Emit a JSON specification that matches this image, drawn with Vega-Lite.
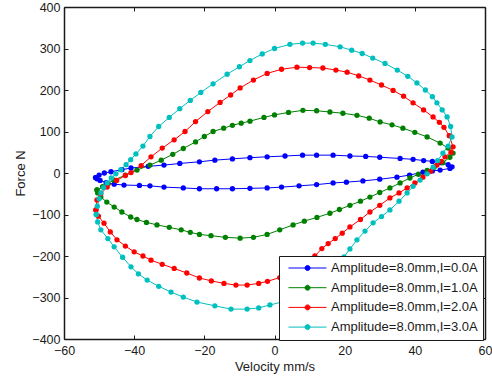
{
"$schema":"https://vega.github.io/schema/vega-lite/v6.json",
"width":421,"height":332,
"autosize":"none",
"padding":{"left":64,"top":7,"right":7,"bottom":37},
"background":"white",
"config":{"view":{"stroke":null},"font":"Liberation Sans",
"axis":{"grid":false,"labelFlush":false,"domainColor":"#1a1a1a","domainWidth":1.5,"tickColor":"#1a1a1a","tickSize":-4,"labelColor":"#1a1a1a","titleColor":"#1a1a1a","labelFontSize":12.5,"titleFontSize":13,"titleFontWeight":"normal","labelFont":"Liberation Sans","titleFont":"Liberation Sans"}},
"data":{"values":[
{"s":"Amplitude=8.0mm,I=0.0A","i":0,"v":-51,"f":-11},{"s":"Amplitude=8.0mm,I=0.0A","i":1,"v":-50,"f":-5},{"s":"Amplitude=8.0mm,I=0.0A","i":2,"v":-48.5,"f":0},{"s":"Amplitude=8.0mm,I=0.0A","i":3,"v":-46.6,"f":3},{"s":"Amplitude=8.0mm,I=0.0A","i":4,"v":-43.5,"f":8},{"s":"Amplitude=8.0mm,I=0.0A","i":5,"v":-40.9,"f":12},{"s":"Amplitude=8.0mm,I=0.0A","i":6,"v":-36,"f":16},{"s":"Amplitude=8.0mm,I=0.0A","i":7,"v":-31.5,"f":19},{"s":"Amplitude=8.0mm,I=0.0A","i":8,"v":-27,"f":23},{"s":"Amplitude=8.0mm,I=0.0A","i":9,"v":-21.4,"f":27},{"s":"Amplitude=8.0mm,I=0.0A","i":10,"v":-17,"f":31},{"s":"Amplitude=8.0mm,I=0.0A","i":11,"v":-12,"f":34},{"s":"Amplitude=8.0mm,I=0.0A","i":12,"v":-7,"f":37},{"s":"Amplitude=8.0mm,I=0.0A","i":13,"v":-2.1,"f":39},{"s":"Amplitude=8.0mm,I=0.0A","i":14,"v":3,"f":41},{"s":"Amplitude=8.0mm,I=0.0A","i":15,"v":8,"f":43},{"s":"Amplitude=8.0mm,I=0.0A","i":16,"v":12,"f":43},{"s":"Amplitude=8.0mm,I=0.0A","i":17,"v":16.7,"f":43},{"s":"Amplitude=8.0mm,I=0.0A","i":18,"v":21.5,"f":41},{"s":"Amplitude=8.0mm,I=0.0A","i":19,"v":26,"f":40},{"s":"Amplitude=8.0mm,I=0.0A","i":20,"v":30,"f":38},{"s":"Amplitude=8.0mm,I=0.0A","i":21,"v":35.8,"f":35},{"s":"Amplitude=8.0mm,I=0.0A","i":22,"v":39.5,"f":33},{"s":"Amplitude=8.0mm,I=0.0A","i":23,"v":42.5,"f":30},{"s":"Amplitude=8.0mm,I=0.0A","i":24,"v":45,"f":28},{"s":"Amplitude=8.0mm,I=0.0A","i":25,"v":47.5,"f":25},{"s":"Amplitude=8.0mm,I=0.0A","i":26,"v":49.5,"f":20},{"s":"Amplitude=8.0mm,I=0.0A","i":27,"v":50.6,"f":15},{"s":"Amplitude=8.0mm,I=0.0A","i":28,"v":50,"f":11},{"s":"Amplitude=8.0mm,I=0.0A","i":29,"v":47.2,"f":7},{"s":"Amplitude=8.0mm,I=0.0A","i":30,"v":45,"f":5},{"s":"Amplitude=8.0mm,I=0.0A","i":31,"v":42.3,"f":2},{"s":"Amplitude=8.0mm,I=0.0A","i":32,"v":38.5,"f":-5},{"s":"Amplitude=8.0mm,I=0.0A","i":33,"v":34.9,"f":-10},{"s":"Amplitude=8.0mm,I=0.0A","i":34,"v":30,"f":-15},{"s":"Amplitude=8.0mm,I=0.0A","i":35,"v":25.2,"f":-19},{"s":"Amplitude=8.0mm,I=0.0A","i":36,"v":20.5,"f":-22},{"s":"Amplitude=8.0mm,I=0.0A","i":37,"v":16.7,"f":-24},{"s":"Amplitude=8.0mm,I=0.0A","i":38,"v":12,"f":-28},{"s":"Amplitude=8.0mm,I=0.0A","i":39,"v":7,"f":-31},{"s":"Amplitude=8.0mm,I=0.0A","i":40,"v":2,"f":-34},{"s":"Amplitude=8.0mm,I=0.0A","i":41,"v":-2.1,"f":-36},{"s":"Amplitude=8.0mm,I=0.0A","i":42,"v":-7,"f":-37},{"s":"Amplitude=8.0mm,I=0.0A","i":43,"v":-12,"f":-38},{"s":"Amplitude=8.0mm,I=0.0A","i":44,"v":-16.5,"f":-38},{"s":"Amplitude=8.0mm,I=0.0A","i":45,"v":-21.4,"f":-38},{"s":"Amplitude=8.0mm,I=0.0A","i":46,"v":-26,"f":-36},{"s":"Amplitude=8.0mm,I=0.0A","i":47,"v":-31.5,"f":-34},{"s":"Amplitude=8.0mm,I=0.0A","i":48,"v":-35.5,"f":-31},{"s":"Amplitude=8.0mm,I=0.0A","i":49,"v":-38.5,"f":-30},{"s":"Amplitude=8.0mm,I=0.0A","i":50,"v":-42.9,"f":-29},{"s":"Amplitude=8.0mm,I=0.0A","i":51,"v":-45.7,"f":-27},{"s":"Amplitude=8.0mm,I=0.0A","i":52,"v":-48,"f":-23},{"s":"Amplitude=8.0mm,I=0.0A","i":53,"v":-49.7,"f":-18},{"s":"Amplitude=8.0mm,I=0.0A","i":54,"v":-50.6,"f":-14},{"s":"Amplitude=8.0mm,I=0.0A","i":55,"v":-51,"f":-11},
{"s":"Amplitude=8.0mm,I=1.0A","i":0,"v":-50.6,"f":-41},{"s":"Amplitude=8.0mm,I=1.0A","i":1,"v":-49,"f":-33},{"s":"Amplitude=8.0mm,I=1.0A","i":2,"v":-47.5,"f":-25},{"s":"Amplitude=8.0mm,I=1.0A","i":3,"v":-45.7,"f":-17},{"s":"Amplitude=8.0mm,I=1.0A","i":4,"v":-42.5,"f":-5},{"s":"Amplitude=8.0mm,I=1.0A","i":5,"v":-39.2,"f":7},{"s":"Amplitude=8.0mm,I=1.0A","i":6,"v":-35.5,"f":19},{"s":"Amplitude=8.0mm,I=1.0A","i":7,"v":-32.3,"f":31},{"s":"Amplitude=8.0mm,I=1.0A","i":8,"v":-29,"f":45},{"s":"Amplitude=8.0mm,I=1.0A","i":9,"v":-26,"f":59},{"s":"Amplitude=8.0mm,I=1.0A","i":10,"v":-22.5,"f":75},{"s":"Amplitude=8.0mm,I=1.0A","i":11,"v":-20,"f":88},{"s":"Amplitude=8.0mm,I=1.0A","i":12,"v":-17.5,"f":100},{"s":"Amplitude=8.0mm,I=1.0A","i":13,"v":-14.5,"f":108},{"s":"Amplitude=8.0mm,I=1.0A","i":14,"v":-12,"f":115},{"s":"Amplitude=8.0mm,I=1.0A","i":15,"v":-9.5,"f":120},{"s":"Amplitude=8.0mm,I=1.0A","i":16,"v":-7,"f":125},{"s":"Amplitude=8.0mm,I=1.0A","i":17,"v":-3,"f":134},{"s":"Amplitude=8.0mm,I=1.0A","i":18,"v":0,"f":140},{"s":"Amplitude=8.0mm,I=1.0A","i":19,"v":4,"f":146},{"s":"Amplitude=8.0mm,I=1.0A","i":20,"v":8.1,"f":151},{"s":"Amplitude=8.0mm,I=1.0A","i":21,"v":12,"f":150},{"s":"Amplitude=8.0mm,I=1.0A","i":22,"v":15.8,"f":147},{"s":"Amplitude=8.0mm,I=1.0A","i":23,"v":19.5,"f":144},{"s":"Amplitude=8.0mm,I=1.0A","i":24,"v":23.5,"f":139},{"s":"Amplitude=8.0mm,I=1.0A","i":25,"v":27,"f":132},{"s":"Amplitude=8.0mm,I=1.0A","i":26,"v":30.1,"f":123},{"s":"Amplitude=8.0mm,I=1.0A","i":27,"v":33.5,"f":116},{"s":"Amplitude=8.0mm,I=1.0A","i":28,"v":36.6,"f":108},{"s":"Amplitude=8.0mm,I=1.0A","i":29,"v":40,"f":98},{"s":"Amplitude=8.0mm,I=1.0A","i":30,"v":43.5,"f":87},{"s":"Amplitude=8.0mm,I=1.0A","i":31,"v":47.2,"f":72},{"s":"Amplitude=8.0mm,I=1.0A","i":32,"v":49.5,"f":60},{"s":"Amplitude=8.0mm,I=1.0A","i":33,"v":50.9,"f":48},{"s":"Amplitude=8.0mm,I=1.0A","i":34,"v":50,"f":38},{"s":"Amplitude=8.0mm,I=1.0A","i":35,"v":48,"f":25},{"s":"Amplitude=8.0mm,I=1.0A","i":36,"v":45.5,"f":14},{"s":"Amplitude=8.0mm,I=1.0A","i":37,"v":43.5,"f":6},{"s":"Amplitude=8.0mm,I=1.0A","i":38,"v":41,"f":-3},{"s":"Amplitude=8.0mm,I=1.0A","i":39,"v":38.6,"f":-12},{"s":"Amplitude=8.0mm,I=1.0A","i":40,"v":35.8,"f":-24},{"s":"Amplitude=8.0mm,I=1.0A","i":41,"v":32.9,"f":-36},{"s":"Amplitude=8.0mm,I=1.0A","i":42,"v":30,"f":-47},{"s":"Amplitude=8.0mm,I=1.0A","i":43,"v":27.2,"f":-58},{"s":"Amplitude=8.0mm,I=1.0A","i":44,"v":24.5,"f":-68},{"s":"Amplitude=8.0mm,I=1.0A","i":45,"v":21.5,"f":-78},{"s":"Amplitude=8.0mm,I=1.0A","i":46,"v":18.5,"f":-88},{"s":"Amplitude=8.0mm,I=1.0A","i":47,"v":15.8,"f":-97},{"s":"Amplitude=8.0mm,I=1.0A","i":48,"v":12.1,"f":-107},{"s":"Amplitude=8.0mm,I=1.0A","i":49,"v":8.5,"f":-116},{"s":"Amplitude=8.0mm,I=1.0A","i":50,"v":5.3,"f":-125},{"s":"Amplitude=8.0mm,I=1.0A","i":51,"v":1.5,"f":-137},{"s":"Amplitude=8.0mm,I=1.0A","i":52,"v":-2.1,"f":-148},{"s":"Amplitude=8.0mm,I=1.0A","i":53,"v":-6,"f":-155},{"s":"Amplitude=8.0mm,I=1.0A","i":54,"v":-9.8,"f":-157},{"s":"Amplitude=8.0mm,I=1.0A","i":55,"v":-14,"f":-155},{"s":"Amplitude=8.0mm,I=1.0A","i":56,"v":-18.1,"f":-151},{"s":"Amplitude=8.0mm,I=1.0A","i":57,"v":-21.4,"f":-148},{"s":"Amplitude=8.0mm,I=1.0A","i":58,"v":-24,"f":-143},{"s":"Amplitude=8.0mm,I=1.0A","i":59,"v":-26.6,"f":-137},{"s":"Amplitude=8.0mm,I=1.0A","i":60,"v":-30,"f":-131},{"s":"Amplitude=8.0mm,I=1.0A","i":61,"v":-33.5,"f":-125},{"s":"Amplitude=8.0mm,I=1.0A","i":62,"v":-36.5,"f":-119},{"s":"Amplitude=8.0mm,I=1.0A","i":63,"v":-39.2,"f":-112},{"s":"Amplitude=8.0mm,I=1.0A","i":64,"v":-41,"f":-106},{"s":"Amplitude=8.0mm,I=1.0A","i":65,"v":-43.5,"f":-94},{"s":"Amplitude=8.0mm,I=1.0A","i":66,"v":-45.7,"f":-82},{"s":"Amplitude=8.0mm,I=1.0A","i":67,"v":-47.8,"f":-70},{"s":"Amplitude=8.0mm,I=1.0A","i":68,"v":-49.5,"f":-58},{"s":"Amplitude=8.0mm,I=1.0A","i":69,"v":-50.4,"f":-48},{"s":"Amplitude=8.0mm,I=1.0A","i":70,"v":-50.6,"f":-41},
{"s":"Amplitude=8.0mm,I=2.0A","i":0,"v":-50.9,"f":-89},{"s":"Amplitude=8.0mm,I=2.0A","i":1,"v":-50.6,"f":-65},{"s":"Amplitude=8.0mm,I=2.0A","i":2,"v":-49.5,"f":-50},{"s":"Amplitude=8.0mm,I=2.0A","i":3,"v":-47.7,"f":-34},{"s":"Amplitude=8.0mm,I=2.0A","i":4,"v":-45,"f":-18},{"s":"Amplitude=8.0mm,I=2.0A","i":5,"v":-42.5,"f":-6},{"s":"Amplitude=8.0mm,I=2.0A","i":6,"v":-40.9,"f":1},{"s":"Amplitude=8.0mm,I=2.0A","i":7,"v":-38,"f":18},{"s":"Amplitude=8.0mm,I=2.0A","i":8,"v":-35.2,"f":39},{"s":"Amplitude=8.0mm,I=2.0A","i":9,"v":-32,"f":60},{"s":"Amplitude=8.0mm,I=2.0A","i":10,"v":-28.6,"f":80},{"s":"Amplitude=8.0mm,I=2.0A","i":11,"v":-25.5,"f":100},{"s":"Amplitude=8.0mm,I=2.0A","i":12,"v":-22.5,"f":124},{"s":"Amplitude=8.0mm,I=2.0A","i":13,"v":-19,"f":148},{"s":"Amplitude=8.0mm,I=2.0A","i":14,"v":-15.5,"f":170},{"s":"Amplitude=8.0mm,I=2.0A","i":15,"v":-12.5,"f":188},{"s":"Amplitude=8.0mm,I=2.0A","i":16,"v":-9.8,"f":205},{"s":"Amplitude=8.0mm,I=2.0A","i":17,"v":-6,"f":224},{"s":"Amplitude=8.0mm,I=2.0A","i":18,"v":-2.1,"f":240},{"s":"Amplitude=8.0mm,I=2.0A","i":19,"v":2,"f":250},{"s":"Amplitude=8.0mm,I=2.0A","i":20,"v":6.4,"f":255},{"s":"Amplitude=8.0mm,I=2.0A","i":21,"v":10,"f":254},{"s":"Amplitude=8.0mm,I=2.0A","i":22,"v":13.8,"f":253},{"s":"Amplitude=8.0mm,I=2.0A","i":23,"v":17.5,"f":248},{"s":"Amplitude=8.0mm,I=2.0A","i":24,"v":20.7,"f":243},{"s":"Amplitude=8.0mm,I=2.0A","i":25,"v":24,"f":234},{"s":"Amplitude=8.0mm,I=2.0A","i":26,"v":27.2,"f":224},{"s":"Amplitude=8.0mm,I=2.0A","i":27,"v":30.5,"f":212},{"s":"Amplitude=8.0mm,I=2.0A","i":28,"v":33.8,"f":199},{"s":"Amplitude=8.0mm,I=2.0A","i":29,"v":36.8,"f":185},{"s":"Amplitude=8.0mm,I=2.0A","i":30,"v":39.5,"f":169},{"s":"Amplitude=8.0mm,I=2.0A","i":31,"v":42.5,"f":152},{"s":"Amplitude=8.0mm,I=2.0A","i":32,"v":45.2,"f":135},{"s":"Amplitude=8.0mm,I=2.0A","i":33,"v":47,"f":122},{"s":"Amplitude=8.0mm,I=2.0A","i":34,"v":48.3,"f":110},{"s":"Amplitude=8.0mm,I=2.0A","i":35,"v":49.8,"f":90},{"s":"Amplitude=8.0mm,I=2.0A","i":36,"v":50.9,"f":63},{"s":"Amplitude=8.0mm,I=2.0A","i":37,"v":50.3,"f":50},{"s":"Amplitude=8.0mm,I=2.0A","i":38,"v":48.6,"f":39},{"s":"Amplitude=8.0mm,I=2.0A","i":39,"v":47.5,"f":28},{"s":"Amplitude=8.0mm,I=2.0A","i":40,"v":46.3,"f":19},{"s":"Amplitude=8.0mm,I=2.0A","i":41,"v":44.5,"f":4},{"s":"Amplitude=8.0mm,I=2.0A","i":42,"v":42.3,"f":-10},{"s":"Amplitude=8.0mm,I=2.0A","i":43,"v":40,"f":-24},{"s":"Amplitude=8.0mm,I=2.0A","i":44,"v":37.8,"f":-36},{"s":"Amplitude=8.0mm,I=2.0A","i":45,"v":35.5,"f":-48},{"s":"Amplitude=8.0mm,I=2.0A","i":46,"v":32.9,"f":-60},{"s":"Amplitude=8.0mm,I=2.0A","i":47,"v":30,"f":-78},{"s":"Amplitude=8.0mm,I=2.0A","i":48,"v":27.2,"f":-94},{"s":"Amplitude=8.0mm,I=2.0A","i":49,"v":24.5,"f":-112},{"s":"Amplitude=8.0mm,I=2.0A","i":50,"v":21.5,"f":-130},{"s":"Amplitude=8.0mm,I=2.0A","i":51,"v":19.3,"f":-145},{"s":"Amplitude=8.0mm,I=2.0A","i":52,"v":17.3,"f":-158},{"s":"Amplitude=8.0mm,I=2.0A","i":53,"v":15.3,"f":-170},{"s":"Amplitude=8.0mm,I=2.0A","i":54,"v":13.5,"f":-182},{"s":"Amplitude=8.0mm,I=2.0A","i":55,"v":11.5,"f":-200},{"s":"Amplitude=8.0mm,I=2.0A","i":56,"v":9.3,"f":-217},{"s":"Amplitude=8.0mm,I=2.0A","i":57,"v":6.5,"f":-233},{"s":"Amplitude=8.0mm,I=2.0A","i":58,"v":4,"f":-244},{"s":"Amplitude=8.0mm,I=2.0A","i":59,"v":1.5,"f":-252},{"s":"Amplitude=8.0mm,I=2.0A","i":60,"v":-2,"f":-261},{"s":"Amplitude=8.0mm,I=2.0A","i":61,"v":-4.5,"f":-266},{"s":"Amplitude=8.0mm,I=2.0A","i":62,"v":-7.8,"f":-270},{"s":"Amplitude=8.0mm,I=2.0A","i":63,"v":-11,"f":-270},{"s":"Amplitude=8.0mm,I=2.0A","i":64,"v":-14.4,"f":-266},{"s":"Amplitude=8.0mm,I=2.0A","i":65,"v":-18,"f":-260},{"s":"Amplitude=8.0mm,I=2.0A","i":66,"v":-21.4,"f":-253},{"s":"Amplitude=8.0mm,I=2.0A","i":67,"v":-25,"f":-241},{"s":"Amplitude=8.0mm,I=2.0A","i":68,"v":-28.6,"f":-230},{"s":"Amplitude=8.0mm,I=2.0A","i":69,"v":-32,"f":-220},{"s":"Amplitude=8.0mm,I=2.0A","i":70,"v":-35.2,"f":-210},{"s":"Amplitude=8.0mm,I=2.0A","i":71,"v":-37.5,"f":-200},{"s":"Amplitude=8.0mm,I=2.0A","i":72,"v":-40,"f":-190},{"s":"Amplitude=8.0mm,I=2.0A","i":73,"v":-42.5,"f":-176},{"s":"Amplitude=8.0mm,I=2.0A","i":74,"v":-44.9,"f":-161},{"s":"Amplitude=8.0mm,I=2.0A","i":75,"v":-46.8,"f":-142},{"s":"Amplitude=8.0mm,I=2.0A","i":76,"v":-48.6,"f":-121},{"s":"Amplitude=8.0mm,I=2.0A","i":77,"v":-50.2,"f":-104},{"s":"Amplitude=8.0mm,I=2.0A","i":78,"v":-50.9,"f":-89},
{"s":"Amplitude=8.0mm,I=3.0A","i":0,"v":-50.8,"f":-100},{"s":"Amplitude=8.0mm,I=3.0A","i":1,"v":-50.5,"f":-80},{"s":"Amplitude=8.0mm,I=3.0A","i":2,"v":-50,"f":-62},{"s":"Amplitude=8.0mm,I=3.0A","i":3,"v":-49.5,"f":-48},{"s":"Amplitude=8.0mm,I=3.0A","i":4,"v":-48.7,"f":-35},{"s":"Amplitude=8.0mm,I=3.0A","i":5,"v":-47.7,"f":-24},{"s":"Amplitude=8.0mm,I=3.0A","i":6,"v":-46.5,"f":-12},{"s":"Amplitude=8.0mm,I=3.0A","i":7,"v":-45.2,"f":-2},{"s":"Amplitude=8.0mm,I=3.0A","i":8,"v":-43.8,"f":8},{"s":"Amplitude=8.0mm,I=3.0A","i":9,"v":-42.3,"f":20},{"s":"Amplitude=8.0mm,I=3.0A","i":10,"v":-41,"f":32},{"s":"Amplitude=8.0mm,I=3.0A","i":11,"v":-39.5,"f":46},{"s":"Amplitude=8.0mm,I=3.0A","i":12,"v":-37.5,"f":65},{"s":"Amplitude=8.0mm,I=3.0A","i":13,"v":-35.5,"f":88},{"s":"Amplitude=8.0mm,I=3.0A","i":14,"v":-33,"f":112},{"s":"Amplitude=8.0mm,I=3.0A","i":15,"v":-30,"f":134},{"s":"Amplitude=8.0mm,I=3.0A","i":16,"v":-27,"f":155},{"s":"Amplitude=8.0mm,I=3.0A","i":17,"v":-24,"f":175},{"s":"Amplitude=8.0mm,I=3.0A","i":18,"v":-21,"f":194},{"s":"Amplitude=8.0mm,I=3.0A","i":19,"v":-17.5,"f":215},{"s":"Amplitude=8.0mm,I=3.0A","i":20,"v":-13.5,"f":238},{"s":"Amplitude=8.0mm,I=3.0A","i":21,"v":-10,"f":256},{"s":"Amplitude=8.0mm,I=3.0A","i":22,"v":-7,"f":271},{"s":"Amplitude=8.0mm,I=3.0A","i":23,"v":-3.5,"f":287},{"s":"Amplitude=8.0mm,I=3.0A","i":24,"v":0,"f":300},{"s":"Amplitude=8.0mm,I=3.0A","i":25,"v":4.4,"f":310},{"s":"Amplitude=8.0mm,I=3.0A","i":26,"v":8,"f":313},{"s":"Amplitude=8.0mm,I=3.0A","i":27,"v":11,"f":313},{"s":"Amplitude=8.0mm,I=3.0A","i":28,"v":14.5,"f":310},{"s":"Amplitude=8.0mm,I=3.0A","i":29,"v":18.7,"f":304},{"s":"Amplitude=8.0mm,I=3.0A","i":30,"v":22,"f":296},{"s":"Amplitude=8.0mm,I=3.0A","i":31,"v":25,"f":288},{"s":"Amplitude=8.0mm,I=3.0A","i":32,"v":28,"f":277},{"s":"Amplitude=8.0mm,I=3.0A","i":33,"v":31.5,"f":264},{"s":"Amplitude=8.0mm,I=3.0A","i":34,"v":35,"f":248},{"s":"Amplitude=8.0mm,I=3.0A","i":35,"v":38,"f":233},{"s":"Amplitude=8.0mm,I=3.0A","i":36,"v":40.6,"f":217},{"s":"Amplitude=8.0mm,I=3.0A","i":37,"v":43,"f":200},{"s":"Amplitude=8.0mm,I=3.0A","i":38,"v":45,"f":184},{"s":"Amplitude=8.0mm,I=3.0A","i":39,"v":46.3,"f":169},{"s":"Amplitude=8.0mm,I=3.0A","i":40,"v":47.8,"f":152},{"s":"Amplitude=8.0mm,I=3.0A","i":41,"v":49.2,"f":135},{"s":"Amplitude=8.0mm,I=3.0A","i":42,"v":50.2,"f":112},{"s":"Amplitude=8.0mm,I=3.0A","i":43,"v":50.6,"f":87},{"s":"Amplitude=8.0mm,I=3.0A","i":44,"v":49.5,"f":65},{"s":"Amplitude=8.0mm,I=3.0A","i":45,"v":48,"f":48},{"s":"Amplitude=8.0mm,I=3.0A","i":46,"v":46.5,"f":30},{"s":"Amplitude=8.0mm,I=3.0A","i":47,"v":45.2,"f":14},{"s":"Amplitude=8.0mm,I=3.0A","i":48,"v":43.5,"f":-2},{"s":"Amplitude=8.0mm,I=3.0A","i":49,"v":41.5,"f":-17},{"s":"Amplitude=8.0mm,I=3.0A","i":50,"v":39.5,"f":-32},{"s":"Amplitude=8.0mm,I=3.0A","i":51,"v":37.8,"f":-48},{"s":"Amplitude=8.0mm,I=3.0A","i":52,"v":35.5,"f":-68},{"s":"Amplitude=8.0mm,I=3.0A","i":53,"v":32.9,"f":-89},{"s":"Amplitude=8.0mm,I=3.0A","i":54,"v":30.5,"f":-105},{"s":"Amplitude=8.0mm,I=3.0A","i":55,"v":28.1,"f":-120},{"s":"Amplitude=8.0mm,I=3.0A","i":56,"v":25.8,"f":-140},{"s":"Amplitude=8.0mm,I=3.0A","i":57,"v":23.5,"f":-161},{"s":"Amplitude=8.0mm,I=3.0A","i":58,"v":21.5,"f":-183},{"s":"Amplitude=8.0mm,I=3.0A","i":59,"v":19.8,"f":-202},{"s":"Amplitude=8.0mm,I=3.0A","i":60,"v":17.8,"f":-218},{"s":"Amplitude=8.0mm,I=3.0A","i":61,"v":15,"f":-238},{"s":"Amplitude=8.0mm,I=3.0A","i":62,"v":12,"f":-260},{"s":"Amplitude=8.0mm,I=3.0A","i":63,"v":9,"f":-280},{"s":"Amplitude=8.0mm,I=3.0A","i":64,"v":6,"f":-297},{"s":"Amplitude=8.0mm,I=3.0A","i":65,"v":3,"f":-309},{"s":"Amplitude=8.0mm,I=3.0A","i":66,"v":-1.3,"f":-318},{"s":"Amplitude=8.0mm,I=3.0A","i":67,"v":-4.5,"f":-325},{"s":"Amplitude=8.0mm,I=3.0A","i":68,"v":-7.8,"f":-328},{"s":"Amplitude=8.0mm,I=3.0A","i":69,"v":-12.4,"f":-328},{"s":"Amplitude=8.0mm,I=3.0A","i":70,"v":-17,"f":-320},{"s":"Amplitude=8.0mm,I=3.0A","i":71,"v":-22.1,"f":-311},{"s":"Amplitude=8.0mm,I=3.0A","i":72,"v":-26,"f":-299},{"s":"Amplitude=8.0mm,I=3.0A","i":73,"v":-29.5,"f":-287},{"s":"Amplitude=8.0mm,I=3.0A","i":74,"v":-33,"f":-273},{"s":"Amplitude=8.0mm,I=3.0A","i":75,"v":-36.3,"f":-258},{"s":"Amplitude=8.0mm,I=3.0A","i":76,"v":-38.8,"f":-243},{"s":"Amplitude=8.0mm,I=3.0A","i":77,"v":-40.9,"f":-226},{"s":"Amplitude=8.0mm,I=3.0A","i":78,"v":-43.3,"f":-203},{"s":"Amplitude=8.0mm,I=3.0A","i":79,"v":-45.7,"f":-178},{"s":"Amplitude=8.0mm,I=3.0A","i":80,"v":-47.5,"f":-158},{"s":"Amplitude=8.0mm,I=3.0A","i":81,"v":-49.5,"f":-137},{"s":"Amplitude=8.0mm,I=3.0A","i":82,"v":-50.4,"f":-118},{"s":"Amplitude=8.0mm,I=3.0A","i":83,"v":-50.8,"f":-100}
]},
"layer":[
{"mark":{"type":"line","strokeWidth":1,"clip":true},
 "encoding":{
  "x":{"field":"v","type":"quantitative","scale":{"domain":[-60,60],"nice":false,"zero":false},"axis":{"orient":"bottom","values":[-60,-40,-20,0,20,40,60],"title":"Velocity mm/s","labelPadding":9,"titlePadding":4}},
  "y":{"field":"f","type":"quantitative","scale":{"domain":[-400,400],"nice":false,"zero":false},"axis":{"orient":"left","values":[-400,-300,-200,-100,0,100,200,300,400],"title":"Force N","labelPadding":8,"titlePadding":4.5}},
  "order":{"field":"i","type":"quantitative"},
  "color":{"field":"s","type":"nominal","scale":{"range":["#0000ff","#008000","#ff0000","#00bfbf"]},
   "legend":{"title":null,"orient":"none","legendX":215,"legendY":249,"strokeColor":"#1a1a1a","fillColor":"white","padding":5,"labelFontSize":13,"labelFont":"Liberation Sans","labelColor":"#1a1a1a","symbolType":"M-0.385,0H5.46M2.16,0A0.385,0.385,0,1,0,2.93,0A0.385,0.385,0,1,0,2.16,0Z","symbolSize":169,"symbolStrokeWidth":1,"labelOffset":33,"rowPadding":5.7,
    "encode":{"symbols":{"update":{"fill":{"scale":"color","field":"value"},"stroke":{"scale":"color","field":"value"}}}}}}
 }},
{"mark":{"type":"point","filled":true,"size":28,"opacity":1,"clip":true},
 "encoding":{
  "x":{"field":"v","type":"quantitative","axis":{"orient":"top","values":[-60,-40,-20,0,20,40,60],"labels":false,"title":null}},
  "y":{"field":"f","type":"quantitative","axis":{"orient":"right","values":[-400,-300,-200,-100,0,100,200,300,400],"labels":false,"title":null}},
  "color":{"field":"s","type":"nominal"}
 }}
],
"resolve":{"axis":{"x":"independent","y":"independent"}}
}
